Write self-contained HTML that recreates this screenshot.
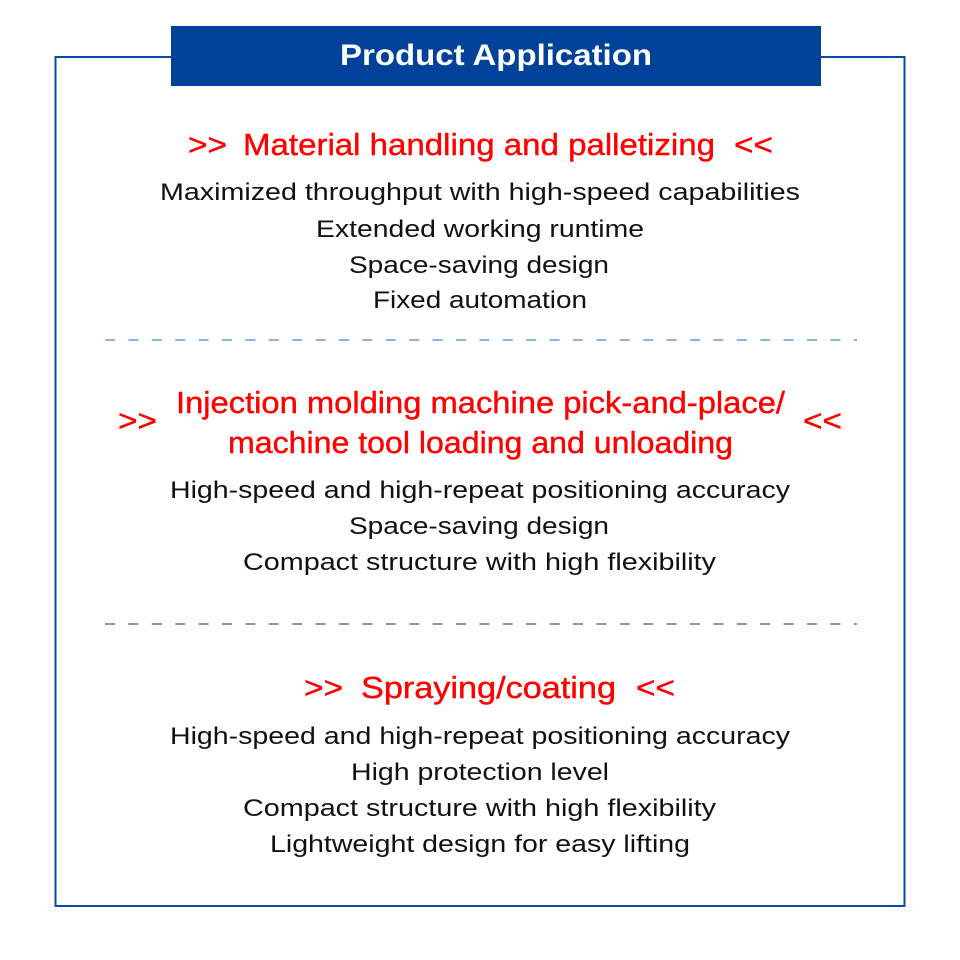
<!DOCTYPE html>
<html><head><meta charset="utf-8"><style>html,body{margin:0;padding:0;background:#fff}svg{display:block}</style></head>
<body>
<svg width="960" height="960" viewBox="0 0 960 960" xmlns="http://www.w3.org/2000/svg">
<rect x="0" y="0" width="960" height="960" fill="#fff"/>
<rect x="55.5" y="57" width="849" height="849" fill="none" stroke="#0a4aa5" stroke-width="2"/>
<rect x="171" y="26" width="650" height="60" fill="#004299"/>
<text x="496" y="65" text-anchor="middle" font-family="Liberation Sans, sans-serif" font-weight="bold" font-size="30" fill="#fff" textLength="312" lengthAdjust="spacingAndGlyphs">Product Application</text>
<line x1="105" y1="340" x2="857" y2="340" stroke="#4a85d0" stroke-width="1.3" stroke-dasharray="10 13.4"/>
<line x1="105" y1="624" x2="857" y2="624" stroke="#555" stroke-width="1.3" stroke-dasharray="10 13.4"/>
<g font-family="Liberation Sans, sans-serif" font-size="31" fill="#f00" stroke="#f00" stroke-width="0.4" lengthAdjust="spacingAndGlyphs">
<text x="188" y="155" textLength="39" lengthAdjust="spacingAndGlyphs">&gt;&gt;</text>
<text x="243" y="155" textLength="472" lengthAdjust="spacingAndGlyphs">Material handling and palletizing</text>
<text x="734" y="155" textLength="39" lengthAdjust="spacingAndGlyphs">&lt;&lt;</text>
<text x="118" y="431" textLength="39" lengthAdjust="spacingAndGlyphs">&gt;&gt;</text>
<text x="176" y="413" textLength="609" lengthAdjust="spacingAndGlyphs">Injection molding machine pick-and-place/</text>
<text x="228" y="453" textLength="505" lengthAdjust="spacingAndGlyphs">machine tool loading and unloading</text>
<text x="803" y="431" textLength="39" lengthAdjust="spacingAndGlyphs">&lt;&lt;</text>
<text x="304" y="698" textLength="39" lengthAdjust="spacingAndGlyphs">&gt;&gt;</text>
<text x="361" y="698" textLength="255" lengthAdjust="spacingAndGlyphs">Spraying/coating</text>
<text x="636" y="698" textLength="39" lengthAdjust="spacingAndGlyphs">&lt;&lt;</text>
</g>
<g font-family="Liberation Sans, sans-serif" font-size="24" fill="#111">
<text x="160" y="200" textLength="640" lengthAdjust="spacingAndGlyphs">Maximized throughput with high-speed capabilities</text>
<text x="316" y="237" textLength="328" lengthAdjust="spacingAndGlyphs">Extended working runtime</text>
<text x="349" y="273" textLength="260" lengthAdjust="spacingAndGlyphs">Space-saving design</text>
<text x="373" y="308" textLength="214" lengthAdjust="spacingAndGlyphs">Fixed automation</text>
<text x="170" y="498" textLength="620" lengthAdjust="spacingAndGlyphs">High-speed and high-repeat positioning accuracy</text>
<text x="349" y="534" textLength="260" lengthAdjust="spacingAndGlyphs">Space-saving design</text>
<text x="243" y="570" textLength="473" lengthAdjust="spacingAndGlyphs">Compact structure with high flexibility</text>
<text x="170" y="744" textLength="620" lengthAdjust="spacingAndGlyphs">High-speed and high-repeat positioning accuracy</text>
<text x="351" y="780" textLength="258" lengthAdjust="spacingAndGlyphs">High protection level</text>
<text x="243" y="816" textLength="473" lengthAdjust="spacingAndGlyphs">Compact structure with high flexibility</text>
<text x="270" y="852" textLength="420" lengthAdjust="spacingAndGlyphs">Lightweight design for easy lifting</text>
</g>
</svg>
</body></html>
